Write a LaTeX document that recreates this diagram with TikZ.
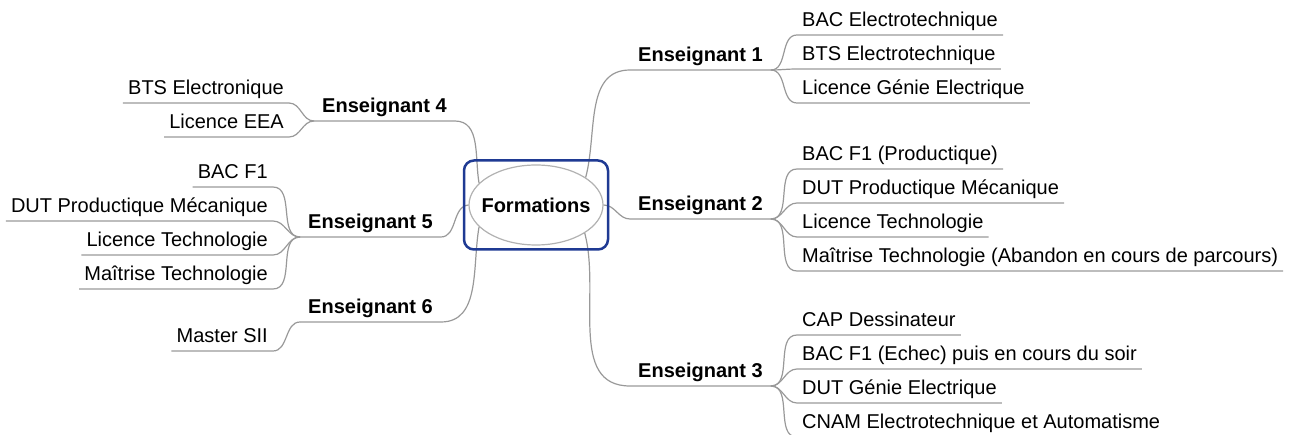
\documentclass[tikz,border=0pt]{standalone}
\usepackage{fontspec}
\setmainfont{Liberation Sans}
\usetikzlibrary{shapes.geometric, positioning}

\definecolor{navy}{HTML}{1F3A93}
\definecolor{linkgray}{HTML}{999999}

\begin{document}
\begin{tikzpicture}[
        x=1pt, y=-1pt,
        node distance=34pt,
        centre/.style={ellipse, draw=gray!60, line width=1.2pt, fill=white, inner sep=0pt, minimum width=134, minimum height=80},
        titre/.style={font=\fontsize{20}{24}\selectfont\bfseries},
        cadre/.style={rectangle, draw=navy, line width=2.5pt, rounded corners=10pt, minimum width=144, minimum height=89},
        prof/.style={inner xsep=8pt, inner ysep=3pt, text height=15pt, text depth=5pt, font=\fontsize{20}{24}\selectfont\bfseries},
        cursus/.style={inner xsep=5pt, inner ysep=3pt, text height=15pt, text depth=5pt, font=\fontsize{20}{24}\selectfont},
        link/.style={draw=linkgray, line width=1.2pt}
    ]
    \useasboundingbox (0,0) rectangle (1298,435);

    % Centre
    \node (form) [centre] at (536,205) {};
    \node (titre) [titre] at (form) {Formations};

    % Enseignants
    \node (e1) [prof, anchor=south west] at (630,70) {Enseignant 1};
    \node (e2) [prof, anchor=south west] at (630,219) {Enseignant 2};
    \node (e3) [prof, anchor=south west] at (630,386) {Enseignant 3};
    \node (e4) [prof, anchor=south west] at (314,121) {Enseignant 4};
    \node (e5) [prof, anchor=south west] at (300,237) {Enseignant 5};
    \node (e6) [prof, anchor=south west] at (300,322) {Enseignant 6};

    % Formations suivies (droite)
    \node (c11) [cursus, anchor=south west] at (797,35) {BAC Electrotechnique};
    \node (c12) [cursus, below=of c11.south west, anchor=south west] {BTS Electrotechnique};
    \node (c13) [cursus, below=of c12.south west, anchor=south west] {Licence Génie Electrique};

    \node (c21) [cursus, anchor=south west] at (797,169) {BAC F1 (Productique)};
    \node (c22) [cursus, below=of c21.south west, anchor=south west] {DUT Productique Mécanique};
    \node (c23) [cursus, below=of c22.south west, anchor=south west] {Licence Technologie};
    \node (c24) [cursus, below=of c23.south west, anchor=south west] {Maîtrise Technologie (Abandon en cours de parcours)};

    \node (c31) [cursus, anchor=south west] at (797,335) {CAP Dessinateur};
    \node (c32) [cursus, below=of c31.south west, anchor=south west] {BAC F1 (Echec) puis en cours du soir};
    \node (c33) [cursus, below=of c32.south west, anchor=south west] {DUT Génie Electrique};
    \node (c34) [cursus, below=of c33.south west, anchor=south west] {CNAM Electrotechnique et Automatisme};

    % Formations suivies (gauche)
    \node (c41) [cursus, anchor=south east] at (289,103) {BTS Electronique};
    \node (c42) [cursus, below=of c41.south east, anchor=south east] {Licence EEA};

    \node (c51) [cursus, anchor=south east] at (273,187) {BAC F1};
    \node (c52) [cursus, below=of c51.south east, anchor=south east] {DUT Productique Mécanique};
    \node (c53) [cursus, below=of c52.south east, anchor=south east] {Licence Technologie};
    \node (c54) [cursus, below=of c53.south east, anchor=south east] {Maîtrise Technologie};

    \node (c61) [cursus, anchor=south east] at (273,351) {Master SII};

    % Branches
    \draw [link] (form.29) to[out=75, in=180] (e1.south west) -- (e1.south east);
    \draw [link] (form.east) to[out=0, in=180] (e2.south west) -- (e2.south east);
    \draw [link] (form.-30) to[out=-75, in=180] (e3.south west) -- (e3.south east);
    \draw [link] (form.159) to[out=100, in=0] (e4.south east) -- (e4.south west);
    \draw [link] (form.west) to[out=185, in=0] (e5.south east) -- (e5.south west);
    \draw [link] (form.201) to[out=-100, in=0] (e6.south east) -- (e6.south west);

    \draw [link] (e1.south east) to[out=0, in=180] (c11.south west) -- (c11.south east);
    \draw [link] (e1.south east) to[out=0, in=180] (c12.south west) -- (c12.south east);
    \draw [link] (e1.south east) to[out=0, in=180] (c13.south west) -- (c13.south east);

    \draw [link] (e2.south east) to[out=0, in=180] (c21.south west) -- (c21.south east);
    \draw [link] (e2.south east) to[out=0, in=180] (c22.south west) -- (c22.south east);
    \draw [link] (e2.south east) to[out=0, in=180] (c23.south west) -- (c23.south east);
    \draw [link] (e2.south east) to[out=0, in=180] (c24.south west) -- (c24.south east);

    \draw [link] (e3.south east) to[out=0, in=180] (c31.south west) -- (c31.south east);
    \draw [link] (e3.south east) to[out=0, in=180] (c32.south west) -- (c32.south east);
    \draw [link] (e3.south east) to[out=0, in=180] (c33.south west) -- (c33.south east);
    \draw [link] (e3.south east) to[out=0, in=180] (c34.south west) -- (c34.south east);

    \draw [link] (e4.south west) to[out=180, in=0] (c41.south east) -- (c41.south west);
    \draw [link] (e4.south west) to[out=180, in=0] (c42.south east) -- (c42.south west);

    \draw [link] (e5.south west) to[out=180, in=0] (c51.south east) -- (c51.south west);
    \draw [link] (e5.south west) to[out=180, in=0] (c52.south east) -- (c52.south west);
    \draw [link] (e5.south west) to[out=180, in=0] (c53.south east) -- (c53.south west);
    \draw [link] (e5.south west) to[out=180, in=0] (c54.south east) -- (c54.south west);

    \draw [link] (e6.south west) to[out=180, in=0] (c61.south east) -- (c61.south west);

    % Cadre
    \node (cadre) [cadre] at (form) {};

\end{tikzpicture}
\end{document}
